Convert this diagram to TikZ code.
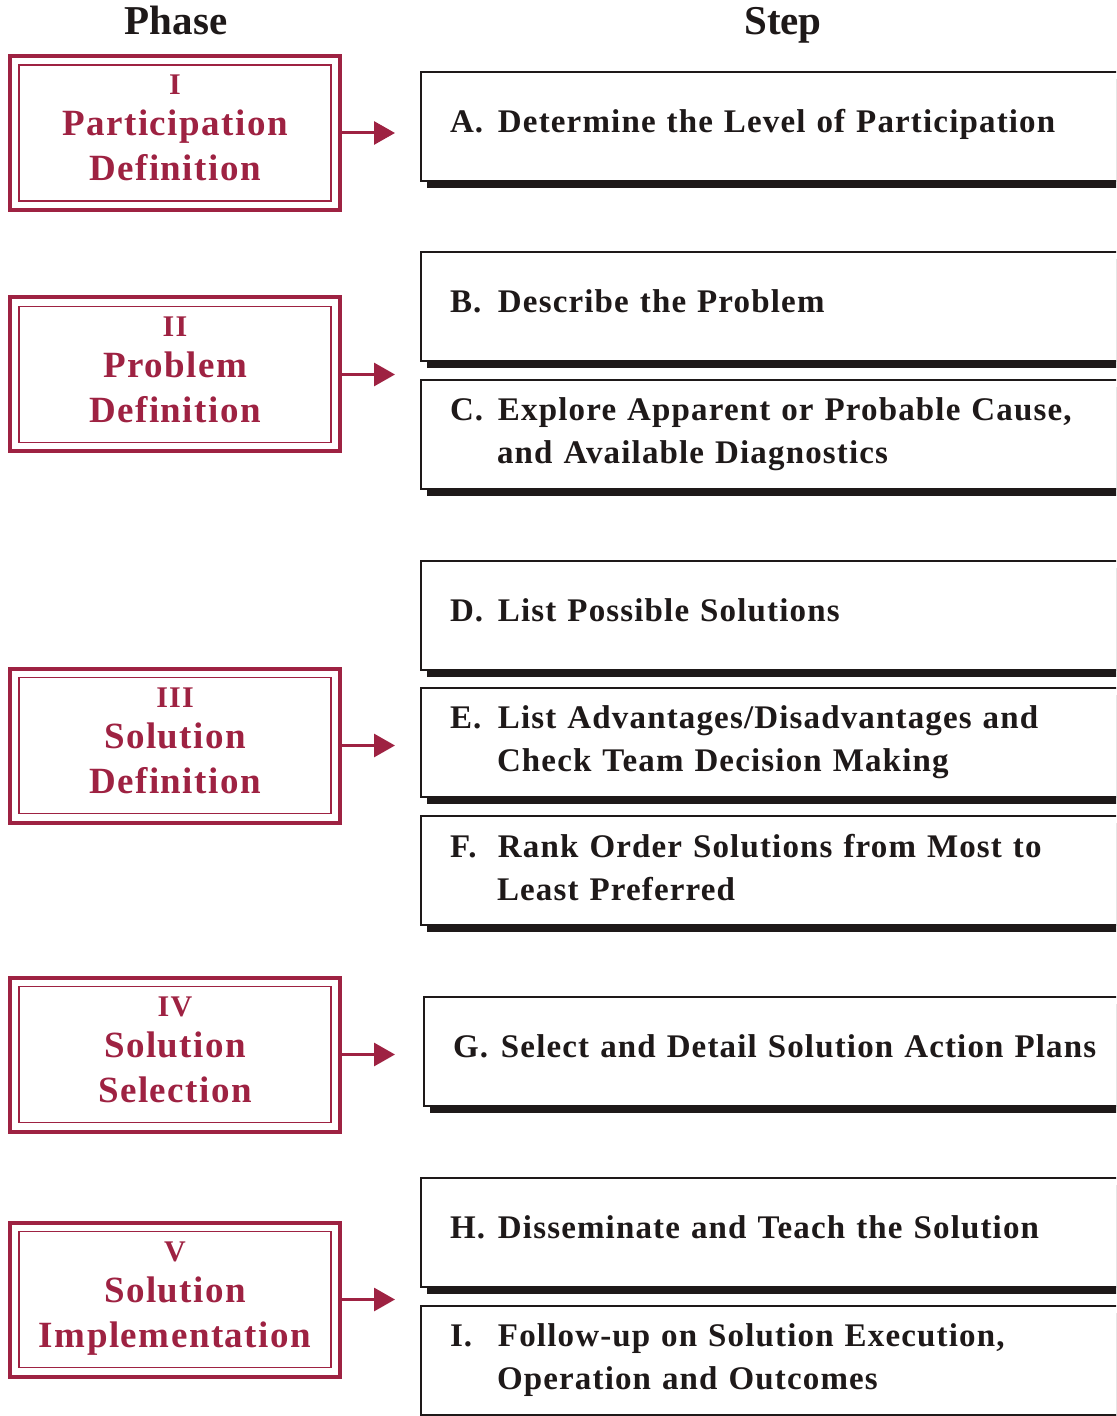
\documentclass[tikz,border=0pt]{standalone}
\usepackage{fontspec}
\setmainfont{Liberation Serif}[LetterSpace=4]
\usetikzlibrary{arrows.meta,positioning,shadows}
\definecolor{phasered}{RGB}{158,34,66}
\definecolor{stepblack}{RGB}{30,25,25}
\newcommand{\steplabel}[1]{\makebox[24pt][l]{#1}}
\newcommand{\stepindent}{\hspace*{23.5pt}}
% empty last line: fixes the depth below the last baseline
\newcommand{\stepend}{\\[-18pt]\mbox{}}
\newcommand{\phaseend}{\\[-17.5pt]\mbox{}}
\tikzset{
  phasebox/.style={
    draw=phasered,
    line width=2pt,
    minimum width=165pt,
    minimum height=77pt,
    inner sep=0pt,
    align=center,
    text=phasered,
    font=\fontsize{18.5}{22.5}\selectfont\bfseries
  },
  phaseinner/.style={
    draw=phasered,
    line width=0.6pt
  },
  stepbox/.style={
    draw=stepblack,
    line width=1pt,
    fill=white,
    anchor=north west,
    text width=330pt,
    minimum height=54.5pt,
    inner xsep=14.5pt,
    align=left,
    text=stepblack,
    font=\fontsize{16.5}{21.5}\selectfont\bfseries\addfontfeature{LetterSpace=3.5},
    drop shadow={shadow xshift=3pt, shadow yshift=-3.5pt, opacity=1, fill=stepblack}
  },
  oneline/.style={
    text depth=5.5pt
  },
  phasearrow/.style={
    draw=phasered,
    line width=1.5pt,
    -{Triangle[length=10.5pt, width=11.5pt]}
  },
  heading/.style={
    anchor=base,
    font=\fontsize{20.5}{24}\selectfont\bfseries\addfontfeature{LetterSpace=0},
    text=stepblack
  }
}

\begin{document}
\begin{tikzpicture}[x=0.5pt, y=-0.5pt]
  \clip (0,0) rectangle (1116,1416);
  \useasboundingbox (0,0) rectangle (1116,1416);

  % Column headings
  \node[heading] (phasehead) at (176,35) {Phase};
  \node[heading] (stephead) at (783,35) {Step};

  % Steps
  \node[stepbox, oneline] (sA) at (420,71) {\steplabel{A.}Determine the Level of Participation};
  \node[stepbox, oneline] (sB) at (420,251) {\steplabel{B.}Describe the Problem};
  \node[stepbox] (sC) at (420,379) {\steplabel{C.}Explore Apparent or Probable Cause,\\\stepindent and Available Diagnostics\stepend};
  \node[stepbox, oneline] (sD) at (420,560) {\steplabel{D.}List Possible Solutions};
  \node[stepbox] (sE) at (420,687) {\steplabel{E.}List Advantages/Disadvantages and\\\stepindent Check Team Decision Making\stepend};
  \node[stepbox] (sF) at (420,815) {\steplabel{F.}Rank Order Solutions from Most to\\\stepindent Least Preferred\stepend};
  \node[stepbox, oneline] (sG) at (423,996) {\steplabel{G.}Select and Detail Solution Action Plans};
  \node[stepbox, oneline] (sH) at (420,1177) {\steplabel{H.}Disseminate and Teach the Solution};
  \node[stepbox] (sI) at (420,1305) {\steplabel{I.}Follow-up on Solution Execution,\\\stepindent Operation and Outcomes\stepend};

  % Phases with arrows
  \coordinate (tipx) at (395,0);
  \foreach \i/\y/\num/\name in {1/133/I/{Participation\\Definition},
      2/374.5/II/{Problem\\Definition},
      3/745.5/III/{Solution\\Definition},
      4/1054.5/IV/{Solution\\Selection},
      5/1299.5/V/{Solution\\Implementation}} {
    \node[phasebox] (p\i) at (175,\y) {{\fontsize{15}{18}\selectfont\num}\\[-2pt]\name\phaseend};
    \draw[phaseinner] ([shift={(11,11)}]p\i.north west) rectangle ([shift={(-11,-11)}]p\i.south east);
    \draw[phasearrow] (p\i.east) -- (p\i.east -| tipx);
  }
\end{tikzpicture}
\end{document}
